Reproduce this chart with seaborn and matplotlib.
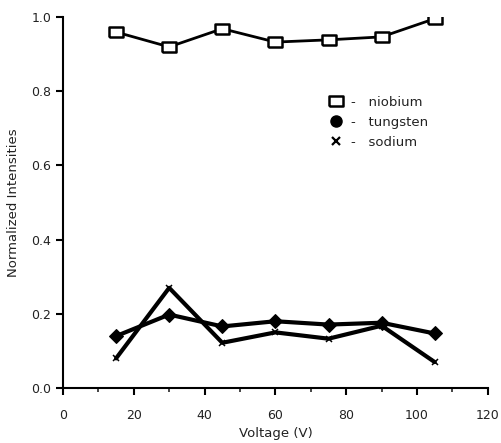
import numpy as np
import pandas as pd
import seaborn as sns
import matplotlib
matplotlib.use('Agg')
import matplotlib.pyplot as plt
from matplotlib.lines import Line2D
from matplotlib.ticker import MultipleLocator, FormatStrFormatter

# Dados
voltagem = [15, 30, 45, 60, 75, 90, 105]
niobio = [0.959, 0.919, 0.968, 0.932, 0.938, 0.946, 0.995]
tungstenio = [0.140, 0.198, 0.166, 0.180, 0.171, 0.176, 0.147]
sodio = [0.080, 0.270, 0.122, 0.150, 0.133, 0.168, 0.070]

nomes = ['niobium', 'tungsten', 'sodium']

df = pd.DataFrame({'Voltage': voltagem * 3,
                   'valor': niobio + tungstenio + sodio,
                   'elemento': sum([[n] * len(voltagem) for n in nomes], [])})

sns.set_style('ticks')
plt.rcParams['font.family'] = ['DejaVu Sans']

fig = plt.figure(figsize=(5.01, 4.43), dpi=100)
ax = fig.add_axes([0.1257, 0.124, 0.848, 0.838])

# retângulo mais largo que alto para o nióbio
retangulo = [(-1.5, -1), (1.5, -1), (1.5, 1), (-1.5, 1), (-1.5, -1)]

estilos = {
    'niobium': dict(marker=retangulo, markersize=10, markerfacecolor='white',
                    markeredgecolor='black', markeredgewidth=1.8, linewidth=2),
    'tungsten': dict(marker='D', markersize=7, markerfacecolor='black',
                     markeredgecolor='black', linewidth=3),
    'sodium': dict(marker='x', markersize=5, markeredgecolor='black',
                   markeredgewidth=1.1, linewidth=3),
}

for nome in nomes:
    sub = df[df['elemento'] == nome]
    sns.lineplot(data=sub, x='Voltage', y='valor', color='black', ax=ax,
                 legend=False, zorder=3 if nome == 'niobium' else 2, **estilos[nome])

ax.set_xlim(0, 120)
ax.set_ylim(0, 1.0)
ax.xaxis.set_major_locator(MultipleLocator(20))
ax.xaxis.set_minor_locator(MultipleLocator(10))
ax.yaxis.set_major_locator(MultipleLocator(0.2))
ax.xaxis.set_major_formatter(FormatStrFormatter('%d'))
ax.yaxis.set_major_formatter(FormatStrFormatter('%.1f'))
ax.tick_params(axis='both', which='major', direction='out', length=5, width=1.5,
               labelsize=9, colors='black', labelcolor='#222222')
ax.tick_params(axis='x', which='minor', direction='out', length=3, width=1.2)
ax.tick_params(axis='x', pad=10)
sns.despine(ax=ax)
for s in ['left', 'bottom']:
    ax.spines[s].set_linewidth(1.5)
    ax.spines[s].set_color('black')

ax.set_xlabel('Voltage (V)', fontsize=9.5, color='#222222')
ax.set_ylabel('Normalized Intensities', fontsize=9.5, color='#222222', labelpad=8)

# legenda
handles = [
    Line2D([], [], linestyle='none', marker=retangulo, markersize=10,
           markerfacecolor='white', markeredgecolor='black', markeredgewidth=1.8),
    Line2D([], [], linestyle='none', marker='o', markersize=8, color='black'),
    Line2D([], [], linestyle='none', marker='x', markersize=6,
           markeredgecolor='black', markeredgewidth=1.6),
]
labels = ['-   niobium', '-   tungsten', '-   sodium']
ax.legend(handles, labels, loc='upper left', bbox_to_anchor=(0.6, 0.82),
          frameon=False, fontsize=9.5, handlelength=1.0, handletextpad=0.6,
          labelspacing=0.55, labelcolor='#222222')

plt.savefig('out.png', dpi=100)
